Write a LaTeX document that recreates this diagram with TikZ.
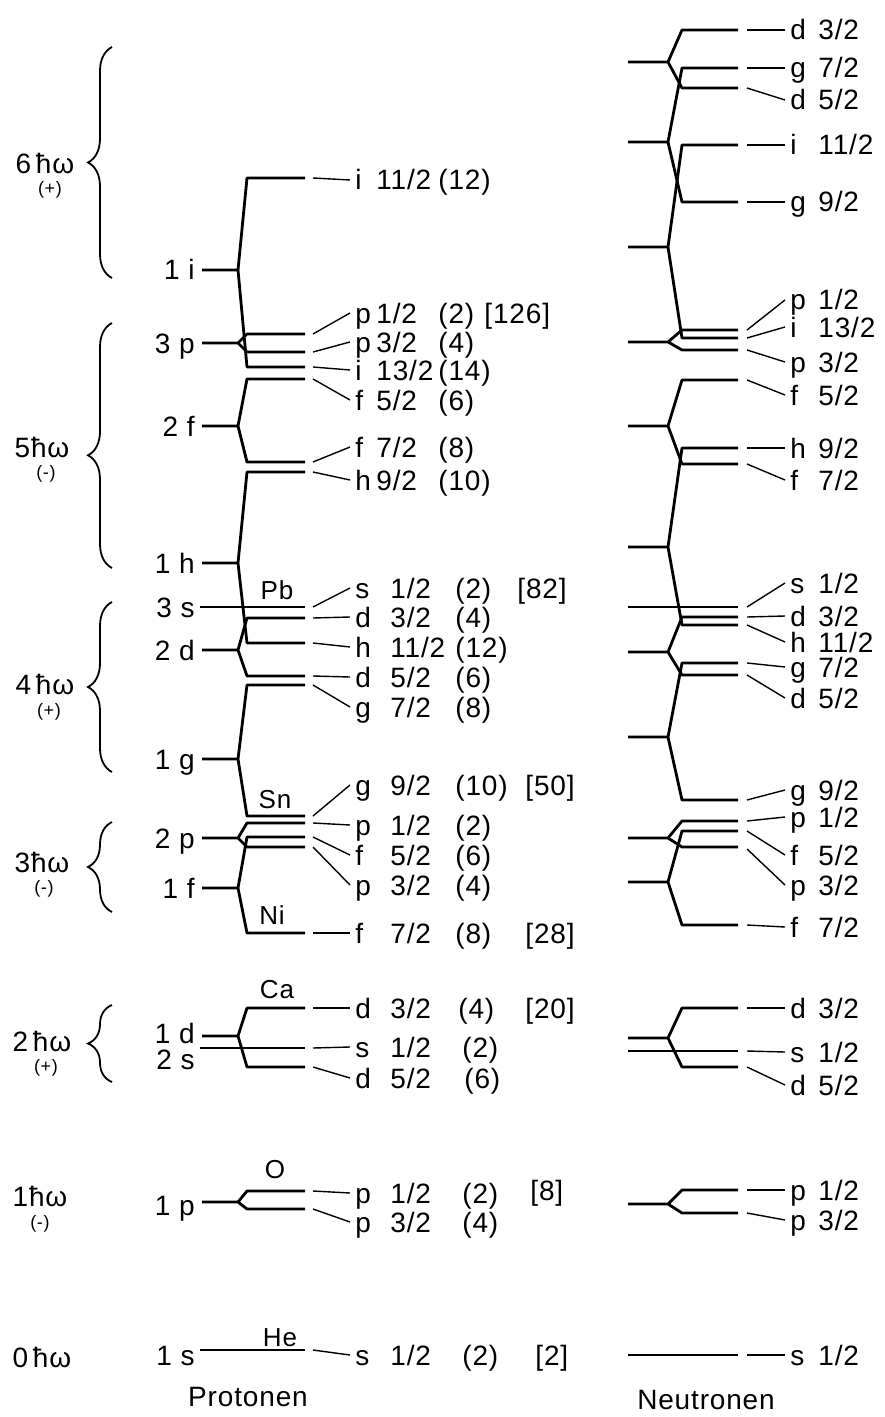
\documentclass[tikz,border=0pt]{standalone}
\usepackage{fontspec}
\setmainfont{Liberation Sans}[LetterSpace=3]
\usetikzlibrary{decorations.pathreplacing}

% boxes that line up the columns of the labels
\newcommand{\shup}[3]{\makebox[10.5pt][l]{#1}\makebox[31pt][l]{#2}#3}
\newcommand{\shlo}[4][32.5pt]{\makebox[17.5pt][l]{#2}\makebox[#1][l]{#3}#4}
\newcommand{\shn}[2]{\makebox[14pt][l]{#1}#2}

\tikzset{
  lev/.style={line width=1.4pt, line join=round},
  conn/.style={line width=0.7pt},
  lab/.style={anchor=west, inner sep=2.5pt, text height=10pt, text depth=0pt,
    font=\fontsize{14}{16}\selectfont},
  shl/.style={lab, anchor=east, inner ysep=1pt},
  magic/.style={anchor=west, inner sep=0pt, text height=10pt, text depth=0pt,
    font=\fontsize{14}{16}\selectfont},
  elem/.style={inner sep=0pt, font=\fontsize{13}{15}\selectfont},
  osc/.style={inner sep=0pt, font=\fontsize{14}{16}\selectfont},
  par/.style={inner sep=0pt, font=\fontsize{9}{10}\selectfont},
  hbrace/.style={decorate, decoration={brace, amplitude=12pt}, line width=0.9pt},
}

\begin{document}
\begin{tikzpicture}[x=0.5pt, y=-0.5pt]
    \useasboundingbox (0,0) rectangle (884,1417);

    % Oscillator shells with braces
    \draw[hbrace] (112,278) -- (112,47);
    \draw[decorate, decoration={brace, amplitude=12pt, aspect=0.46}, line width=0.9pt] (112,568) -- (112,323);
    \draw[hbrace] (112,772) -- (112,602);
    \draw[hbrace] (112,912) -- (112,822);
    \draw[hbrace] (112,1082) -- (112,1005);

    \node[osc] (o6) at (45,163) {6\,ħω};   \node[par] (s6) at (50,190) {(+)};
    \node[osc] (o5) at (42,447) {5ħω};     \node[par] (s5) at (46,474) {(-)};
    \node[osc] (o4) at (45,684) {4\,ħω};   \node[par] (s4) at (49,712) {(+)};
    \node[osc] (o3) at (42,862) {3ħω};     \node[par] (s3) at (44,889) {(-)};
    \node[osc] (o2) at (42,1041) {2\,ħω};  \node[par] (s2) at (46,1068) {(+)};
    \node[osc] (o1) at (40,1196) {1ħω};    \node[par] (s1) at (40,1224) {(-)};
    \node[osc] (o0) at (42,1357) {0\,ħω};

    % Shell labels nl
    \foreach \y/\s [count=\i] in {270/1 i, 343/3 p, 426/2 f, 563/1 h, 607/3 s, 650/2 d,
        759/1 g, 838/2 p, 888/1 f, 1033/1 d, 1059/2 s, 1205/1 p, 1355/1 s}
        \node[shl] (sh\i) at (200,\y) {\s};

    % Proton levels: split by spin-orbit coupling
    \foreach \y/\u/\d in {270/178/367, 343/334/352, 426/379/462, 563/472/643, 650/618/676,
        759/685/816, 838/823/847, 888/837/933, 1036/1008/1067, 1202/1191/1209}
        \draw[lev] (202,\y) -- (238,\y) -- (247,\u) -- (305,\u) (238,\y) -- (247,\d) -- (305,\d);
    \foreach \y in {607, 1048, 1350}
        \draw[lev] (200,\y) -- (305,\y);

    % Neutron levels
    \foreach \y/\u/\d in {62/30/88, 142/68/202, 247/145/338, 342/330/350, 426/380/464,
        547/448/625, 652/617/675, 737/663/800, 838/821/847, 882/831/925, 1038/1008/1067,
        1204/1190/1213}
        \draw[lev] (628,\y) -- (668,\y) -- (682,\u) -- (738,\u) (668,\y) -- (682,\d) -- (738,\d);
    \foreach \y in {607, 1051, 1355}
        \draw[lev] (628,\y) -- (738,\y);

    % Proton labels j (occupation)
    \foreach \yl/\yt/\txt [count=\i] in {
        178/180/{\shup{i}{11/2}{(12)}}, 334/313/{\shup{p}{1/2}{(2)}},
        352/342/{\shup{p}{3/2}{(4)}}, 367/370/{\shup{i}{13/2}{(14)}},
        379/400/{\shup{f}{5/2}{(6)}}, 462/447/{\shup{f}{7/2}{(8)}},
        472/480/{\shup{h}{9/2}{(10)}},
        607/588/{\shlo{s}{1/2}{(2)}}, 618/617/{\shlo{d}{3/2}{(4)}},
        643/647/{\shlo{h}{11/2}{(12)}}, 676/677/{\shlo{d}{5/2}{(6)}},
        685/707/{\shlo{g}{7/2}{(8)}}, 816/785/{\shlo{g}{9/2}{(10)}},
        823/825/{\shlo{p}{1/2}{(2)}}, 837/855/{\shlo{f}{5/2}{(6)}},
        847/885/{\shlo{p}{3/2}{(4)}}, 933/933/{\shlo{f}{7/2}{(8)}},
        1008/1008/{\shlo[34pt]{d}{3/2}{(4)}}, 1048/1047/{\shlo[36pt]{s}{1/2}{(2)}},
        1067/1078/{\shlo[37pt]{d}{5/2}{(6)}}, 1191/1193/{\shlo[36pt]{p}{1/2}{(2)}},
        1209/1222/{\shlo[36pt]{p}{3/2}{(4)}}, 1350/1355/{\shlo[36pt]{s}{1/2}{(2)}}}{
        \node[lab] (pr\i) at (350,\yt) {\txt};
        \draw[conn] (313,\yl) -- (pr\i.west);
    }

    % Magic numbers
    \node[magic] (m126) at (484,313) {[126]};
    \node[magic] (m82) at (517,588) {[82]};
    \node[magic] (m50) at (525,785) {[50]};
    \node[magic] (m28) at (525,933) {[28]};
    \node[magic] (m20) at (525,1008) {[20]};
    \node[magic] (m8) at (530,1190) {[8]};
    \node[magic] (m2) at (535,1355) {[2]};

    % Closed-shell nuclei
    \node[elem] (pb) at (277,590) {Pb};
    \node[elem] (sn) at (275,800) {Sn};
    \node[elem] (ni) at (272,915) {Ni};
    \node[elem] (ca) at (277,990) {Ca};
    \node[elem] (ox) at (275,1170) {O};
    \node[elem] (he) at (280,1338) {He};

    % Neutron labels
    \foreach \yl/\yt/\txt [count=\i] in {
        30/30/{\shn{d}{3/2}}, 68/68/{\shn{g}{7/2}}, 88/100/{\shn{d}{5/2}},
        145/145/{\shn{i}{11/2}}, 202/202/{\shn{g}{9/2}}, 330/300/{\shn{p}{1/2}},
        338/327/{\shn{i}{13/2}}, 350/362/{\shn{p}{3/2}}, 380/395/{\shn{f}{5/2}},
        448/448/{\shn{h}{9/2}}, 464/480/{\shn{f}{7/2}}, 607/583/{\shn{s}{1/2}},
        617/616/{\shn{d}{3/2}}, 625/642/{\shn{h}{11/2}}, 663/667/{\shn{g}{7/2}},
        675/698/{\shn{d}{5/2}}, 800/790/{\shn{g}{9/2}}, 821/817/{\shn{p}{1/2}},
        831/855/{\shn{f}{5/2}}, 849/885/{\shn{p}{3/2}}, 925/927/{\shn{f}{7/2}},
        1008/1008/{\shn{d}{3/2}}, 1051/1052/{\shn{s}{1/2}}, 1067/1085/{\shn{d}{5/2}},
        1190/1190/{\shn{p}{1/2}}, 1213/1220/{\shn{p}{3/2}}, 1355/1355/{\shn{s}{1/2}}}{
        \node[lab] (ne\i) at (785,\yt) {\txt};
        \draw[conn] (747,\yl) -- (ne\i.west);
    }

    % Column titles
    \node[osc] (prot) at (248,1397) {Protonen};
    \node[osc] (neut) at (706,1400) {Neutronen};
\end{tikzpicture}
\end{document}
